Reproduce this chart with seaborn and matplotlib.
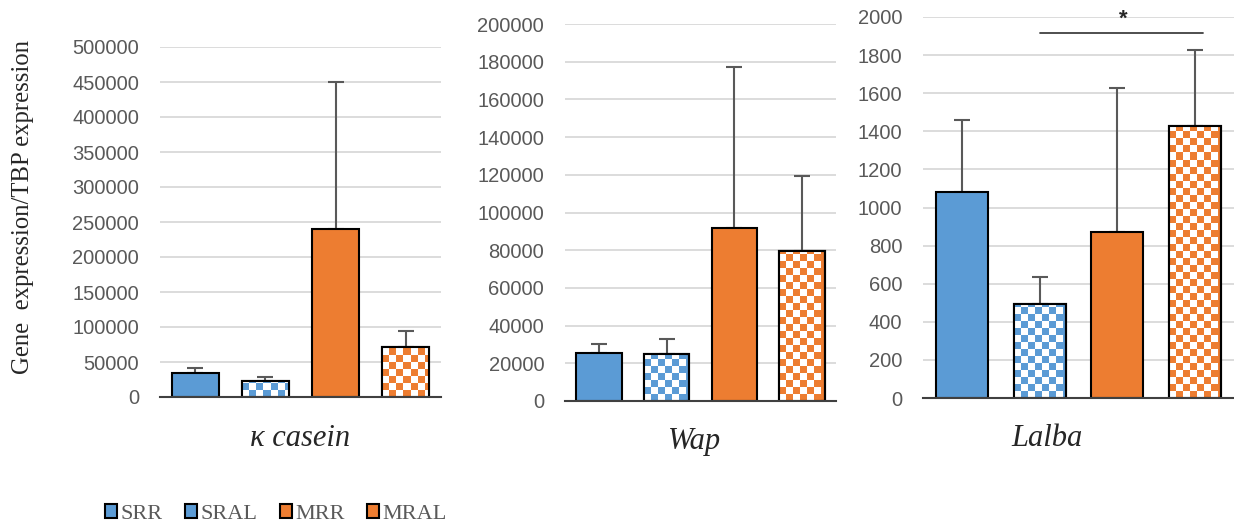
import numpy as np
import pandas as pd
import seaborn as sns
import matplotlib.pyplot as plt
from matplotlib.patches import Patch

# data
groups = ['SRR', 'SRAL', 'MRR', 'MRAL']
genes = ['κ casein', 'Wap', 'Lalba']
kcasein_mean = [34000, 22800, 240000, 71000]
kcasein_err = [7000, 5500, 210000, 24000]
wap_mean = [25400, 24900, 92000, 79400]
wap_err = [5000, 8000, 85000, 40000]
lalba_mean = [1082, 496, 871, 1430]
lalba_err = [375, 137, 755, 396]
ylims = [500000, 200000, 2000]
ysteps = [50000, 20000, 200]

blue = '#5B9BD5'
orange = '#ED7D31'
bar_colors = [blue, blue, orange, orange]
checkered = [False, True, False, True]

sns.set_style('white')
plt.rcParams['font.family'] = ['Liberation Sans', 'DejaVu Sans']

fig = plt.figure(figsize=(12.34, 5.26), dpi=100)
W, H = 1234, 526
# axes boxes in pixels: left, right, bottom, top
boxes = [(160, 441, 397, 47), (565, 836, 401, 24), (923, 1234, 398, 17)]
# centre of each gene label, in pixels
label_xy = [(300, 436), (695, 439), (1047, 436)]
means = [kcasein_mean, wap_mean, lalba_mean]
errs = [kcasein_err, wap_err, lalba_err]
axes = []
for (l, r, b, t) in boxes:
    axes.append(fig.add_axes([l / W, 1 - b / H, (r - l) / W, (b - t) / H]))


def checker_fill(ax, patch, color, sq=7):
    # draw a checkerboard texture clipped to the bar
    x0, y0 = patch.get_x(), patch.get_y()
    x1, y1 = x0 + patch.get_width(), y0 + patch.get_height()
    p0 = ax.transData.transform((x0, y0))
    p1 = ax.transData.transform((x1, y1))
    nx = max(1, int(round((p1[0] - p0[0]) / sq)))
    ny = max(1, int(np.ceil((p1[1] - p0[1]) / sq)))
    grid = (np.add.outer(np.arange(ny), np.arange(nx)) % 2).astype(float)
    cmap = plt.matplotlib.colors.ListedColormap(['white', color])
    im = ax.imshow(grid, extent=(x0, x0 + nx * sq * (x1 - x0) / (p1[0] - p0[0]), y0,
                                 y0 + ny * sq * (y1 - y0) / (p1[1] - p0[1])),
                   origin='lower', cmap=cmap, vmin=0, vmax=1, aspect='auto',
                   interpolation='nearest', zorder=patch.get_zorder() + 0.1)
    im.set_clip_path(patch)
    # redraw the outline on top
    ax.add_patch(plt.Rectangle((x0, y0), x1 - x0, y1 - y0, fill=False,
                               edgecolor='black', linewidth=1.5,
                               zorder=patch.get_zorder() + 0.2))


for i, ax in enumerate(axes):
    df = pd.DataFrame({'group': groups, 'value': means[i]})
    sns.barplot(data=df, x='group', y='value', hue='group', palette=bar_colors,
                saturation=1, width=0.67, edgecolor='black', linewidth=1.5,
                legend=False, ax=ax, zorder=3)
    ax.set_ylim(0, ylims[i])
    ax.set_xlim(-0.5, 3.5)
    ax.set_yticks(np.arange(0, ylims[i] + 1, ysteps[i]))
    ax.tick_params(axis='y', length=0, pad=15, labelsize=14.5, labelcolor='#595959')
    ax.tick_params(axis='x', length=0, labelbottom=False)
    ax.grid(axis='y', color='#d9d9d9', linewidth=1.3, zorder=0)
    ax.set_axisbelow(True)
    for s in ['left', 'right', 'top']:
        ax.spines[s].set_visible(False)
    ax.spines['bottom'].set_color('#404040')
    ax.spines['bottom'].set_linewidth(1.5)
    ax.spines['bottom'].set_zorder(5)
    ax.set_ylabel('')
    ax.set_xlabel(genes[i], fontsize=22, style='italic', family='Liberation Serif')
    l, r, b, t = boxes[i]
    cx, cy = label_xy[i]
    ax.xaxis.set_label_coords((cx - l) / (r - l), -(cy - 12 - b) / (b - t))

    bars = sorted(ax.patches, key=lambda p: p.get_x())[:4]
    xs = [p.get_x() + p.get_width() / 2 for p in bars]
    ax.errorbar(xs, means[i], yerr=[np.zeros(4), errs[i]], fmt='none',
                ecolor='#595959', elinewidth=1.5, capsize=6, capthick=1.5, zorder=2)
    fig.canvas.draw()
    for p, c, chk in zip(bars, bar_colors, checkered):
        if chk:
            checker_fill(ax, p, c)

axes[0].set_ylabel('Gene  expression/TBP expression', family='Liberation Serif',
                   fontsize=17.8)
axes[0].yaxis.set_label_coords((34 - 160) / 281, (397 - 207) / 350)

# significance bar on Lalba
ax3 = axes[2]
ax3.plot([1.0, 3.1], [1916, 1916], color='#404040', linewidth=1.3, clip_on=False, zorder=6)
ax3.text(2.07, 1990, '*', ha='center', va='center', fontsize=16, fontweight='bold',
         color='#262626', clip_on=False)

handles = [Patch(facecolor=c, edgecolor='black', linewidth=1.5) for c in bar_colors]
fig.legend(handles, groups, loc='center left', bbox_to_anchor=(85 / W, 1 - 514 / H),
           ncol=4, frameon=False, handlelength=0.55, handleheight=0.55,
           handletextpad=0.15, columnspacing=1.0,
           prop={'family': 'Liberation Serif', 'size': 16}, labelcolor='#595959')

fig.savefig('out.png', dpi=100)
